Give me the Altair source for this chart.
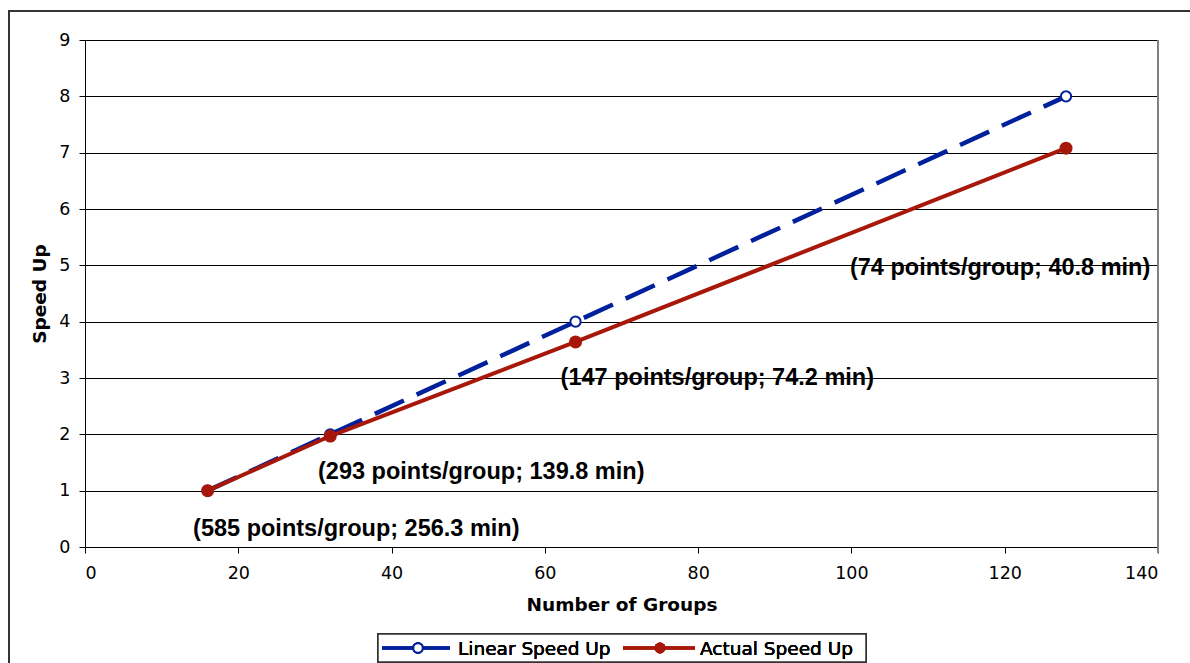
import altair as alt
import pandas as pd

groups = [16, 32, 64, 128]
linear = [1, 2, 4, 8]
actual = [1.0, 1.97, 3.64, 7.08]

notes = ["(585 points/group; 256.3 min)", "(293 points/group; 139.8 min)",
         "(147 points/group; 74.2 min)", "(74 points/group; 40.8 min)"]
note_x = [35.4, 51.7, 82.5, 119.4]
note_y = [0.32, 1.33, 3.0, 4.95]

BLUE = "#00209C"
RED = "#A8180A"
W, H = 1073, 507

df = pd.DataFrame({"g": groups, "lin": linear, "act": actual})
nd = pd.DataFrame({"t": notes, "x": note_x, "y": note_y})

xs = alt.Scale(domain=[0, 140], nice=False)
ys = alt.Scale(domain=[0, 9], nice=False)

xax = alt.Axis(title="Number of Groups", values=list(range(0, 141, 20)), grid=False, format="d",
               tickSize=6, tickColor="black", domainColor="black", labelFont="DejaVu Sans",
               labelFontSize=17.5, labelColor="black", labelPadding=11,
               titleFont="DejaVu Sans", titleFontSize=18.5, titleFontWeight="bold",
               titleColor="black", titlePadding=14)
yax = alt.Axis(title="Speed Up", values=list(range(0, 10)), grid=True, gridColor="black",
               gridOpacity=1, gridWidth=1, tickSize=6, tickColor="black", domainColor="black",
               format="d",
               labelFont="DejaVu Sans", labelFontSize=17.5, labelColor="black", labelPadding=9,
               titleFont="DejaVu Sans", titleFontSize=18.5, titleFontWeight="bold",
               titleColor="black", titlePadding=9)

base = alt.Chart(df)

lin_line = base.mark_line(color=BLUE, strokeWidth=4.5, strokeDash=[32, 14]).encode(
    x=alt.X("g:Q", scale=xs, axis=xax), y=alt.Y("lin:Q", scale=ys, axis=yax))
lin_pts = base.mark_point(shape="circle", size=105, filled=True, fill="white",
                          stroke=BLUE, strokeWidth=2, opacity=1).encode(
    x=alt.X("g:Q", scale=xs), y=alt.Y("lin:Q", scale=ys))
act_line = base.mark_line(color=RED, strokeWidth=4).encode(
    x=alt.X("g:Q", scale=xs), y=alt.Y("act:Q", scale=ys))
act_pts = base.mark_point(shape="circle", size=170, filled=True, color=RED, opacity=1).encode(
    x=alt.X("g:Q", scale=xs), y=alt.Y("act:Q", scale=ys))

labels = alt.Chart(nd).mark_text(font="Liberation Sans", fontSize=23.5, fontWeight="bold",
                                 color="black", align="center", baseline="middle").encode(
    x=alt.X("x:Q", scale=xs), y=alt.Y("y:Q", scale=ys), text="t:N")

# right border of plot area (gray)
rborder = alt.Chart(df).mark_rule(color="#808080", strokeWidth=2).encode(
    x=alt.value(W), y=alt.value(0), y2=alt.value(H + 6))

# outer chart border
outer = alt.Chart(df).mark_rect(fill=None, stroke="#333333", strokeWidth=2, clip=False).encode(
    x=alt.value(-76), x2=alt.value(1200), y=alt.value(-29), y2=alt.value(640))

# legend
leg_box = alt.Chart(df).mark_rect(fill="white", stroke="#333333", strokeWidth=1.5).encode(
    x=alt.value(293), x2=alt.value(781), y=alt.value(594), y2=alt.value(622))
leg_l1 = alt.Chart(df).mark_rule(color=BLUE, strokeWidth=3).encode(
    x=alt.value(297), x2=alt.value(365), y=alt.value(608))
leg_p1 = alt.Chart(df).mark_point(shape="circle", size=90, filled=True, fill="white",
                                  stroke=BLUE, strokeWidth=2, opacity=1).encode(
    x=alt.value(333), y=alt.value(608))
leg_t1 = alt.Chart(df).mark_text(text="Linear Speed Up", font="DejaVu Sans", fontSize=18.5,
                                 color="black", align="left", baseline="middle").encode(
    x=alt.value(373), y=alt.value(609))
leg_l2 = alt.Chart(df).mark_rule(color=RED, strokeWidth=3).encode(
    x=alt.value(538), x2=alt.value(610), y=alt.value(608))
leg_p2 = alt.Chart(df).mark_point(shape="circle", size=120, filled=True, color=RED,
                                  opacity=1).encode(x=alt.value(575), y=alt.value(608))
leg_t2 = alt.Chart(df).mark_text(text="Actual Speed Up", font="DejaVu Sans", fontSize=18.5,
                                 color="black", align="left", baseline="middle").encode(
    x=alt.value(615), y=alt.value(609))

chart = alt.layer(
    outer, rborder, lin_line, lin_pts, act_line, act_pts, labels,
    leg_box, leg_l1, leg_p1, leg_t1, leg_l2, leg_p2, leg_t2
).properties(
    width=W, height=H,
    padding={"left": 85, "top": 40, "right": 32, "bottom": 116},
    autosize=alt.AutoSizeParams(type="none"),
    background="white"
).configure_view(stroke=None)

chart.save("out.html", embed_options={"renderer": "svg", "actions": False})
